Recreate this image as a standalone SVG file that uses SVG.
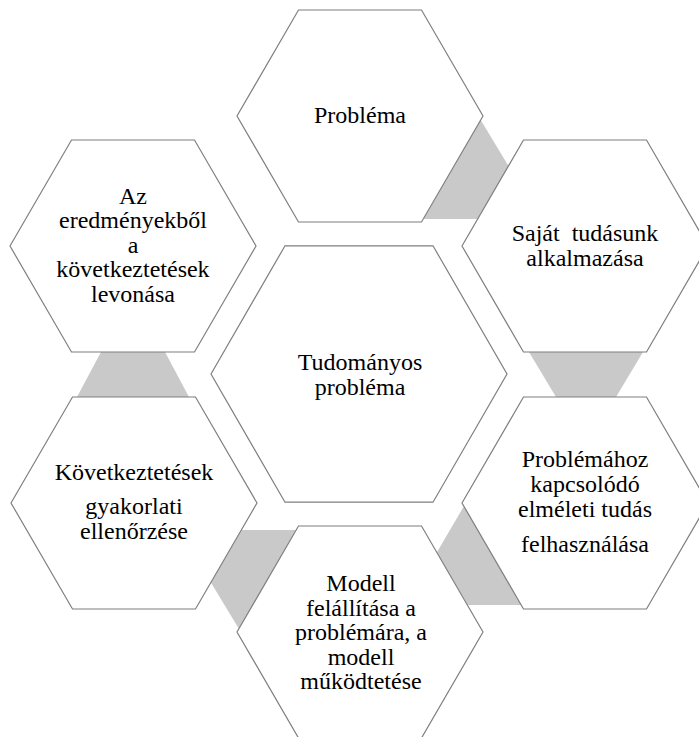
<svg xmlns="http://www.w3.org/2000/svg" width="699" height="737" viewBox="0 0 699 737">
  <style>
    .hex { fill: #ffffff; stroke: #7f7f7f; stroke-width: 1.2; stroke-linejoin: miter; }
    .link { fill: #c9c9c9; stroke: none; }
    .label { font-family: "Liberation Serif", "Times New Roman", serif; font-size: 24px; fill: #000000; text-anchor: middle; }
  </style>
  <rect x="0" y="0" width="699" height="737" fill="#ffffff"/>

  <!-- tapered connectors, drawn first so the hexagons sit on top -->
  <g id="connectors">
    <polygon class="link" points="480.7,120 508.5,166 477.5,219 423.4,219"/>
    <polygon class="link" points="529,352 643,352 616,397 556,397"/>
    <polygon class="link" points="464,506 521,605 468,605 436.8,552.4"/>
    <polygon class="link" points="296.2,530 241.9,530 210.9,582.4 239,629"/>
    <polygon class="link" points="101,352 165,352 189,397 77,397"/>
  </g>

  <g id="node-problema">
    <polygon class="hex" points="237,116 298.5,10 421.5,10 483,116 421.5,222 298.5,222"/>
    <text class="label" x="360" y="123">Probléma</text>
  </g>

  <g id="node-sajat-tudas">
    <polygon class="hex" points="462,246 523.5,140 646.5,140 708,246 646.5,352 523.5,352"/>
    <text class="label" x="585" y="241" xml:space="preserve">Saját  tudásunk</text>
    <text class="label" x="585" y="265.5">alkalmazása</text>
  </g>

  <g id="node-elmeleti-tudas">
    <polygon class="hex" points="462,503 523.5,397 646.5,397 708,503 646.5,609 523.5,609"/>
    <text class="label" x="585" y="467">Problémához</text>
    <text class="label" x="585" y="491.5">kapcsolódó</text>
    <text class="label" x="585" y="516.5">elméleti tudás</text>
    <text class="label" x="585" y="552">felhasználása</text>
  </g>

  <g id="node-modell">
    <polygon class="hex" points="237,632 298.5,526 421.5,526 483,632 421.5,738 298.5,738"/>
    <text class="label" x="361" y="591">Modell</text>
    <text class="label" x="361" y="615.5">felállítása a</text>
    <text class="label" x="361" y="640">problémára, a</text>
    <text class="label" x="361" y="664.5">modell</text>
    <text class="label" x="361" y="689">működtetése</text>
  </g>

  <g id="node-ellenorzes">
    <polygon class="hex" points="11,503 72.5,397 195.5,397 257,503 195.5,609 72.5,609"/>
    <text class="label" x="134" y="480">Következtetések</text>
    <text class="label" x="134" y="514">gyakorlati</text>
    <text class="label" x="134" y="538.5">ellenőrzése</text>
  </g>

  <g id="node-kovetkeztetesek">
    <polygon class="hex" points="10,246 71.5,140 194.5,140 256,246 194.5,352 71.5,352"/>
    <text class="label" x="133" y="203.5">Az</text>
    <text class="label" x="133" y="228">eredményekből</text>
    <text class="label" x="133" y="252.5">a</text>
    <text class="label" x="133" y="277">következtetések</text>
    <text class="label" x="133" y="301.5">levonása</text>
  </g>

  <g id="node-tudomanyos-problema">
    <polygon class="hex" points="211,374 285,245.8 433,245.8 507,374 433,502.2 285,502.2"/>
    <text class="label" x="360" y="370">Tudományos</text>
    <text class="label" x="360" y="395">probléma</text>
  </g>
</svg>
